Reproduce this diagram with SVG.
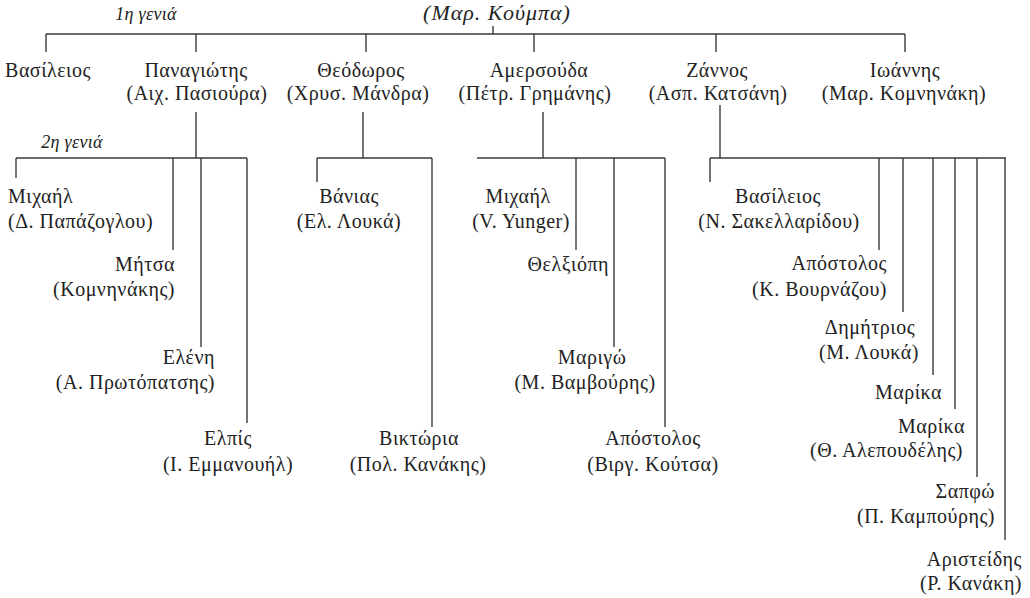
<svg xmlns="http://www.w3.org/2000/svg" width="1030" height="598" viewBox="0 0 1030 598">
<style>
text{font-family:"Liberation Serif","DejaVu Serif",serif;font-size:20px;letter-spacing:0.5px;fill:#222}
.it{font-style:italic;font-size:18px;letter-spacing:0.3px}
.rt{font-size:22px;letter-spacing:1px}
.m{text-anchor:middle}
.e{text-anchor:end}
.ln{fill:none;stroke:#3a3a3a;stroke-width:1.4}
</style>
<rect width="1030" height="598" fill="#fff"/>
<g id="connectors" class="ln">
<path d="M46 34H905M493 26V34M46 34V52M196 34V52M366 34V52M534 34V52M716 34V52M905 34V52"/>
<path d="M196 112V158M16 158H247M16 158V178M173 158V250M201 158V347M247 158V423"/>
<path d="M363 112V158M317 158H432M317 158V182M432 158V427"/>
<path d="M543 112V158M477 158H665M576 158V250M614 158V347M665 158V427"/>
<path d="M720 105V158M710 158H1006M710 158V182M879 158V250M903 158V312M933 158V375M955 158V409M977 158V477M1005 158V540"/>
</g>
<g id="labels">
<text class="it m" x="146" y="20">1η γενιά</text>
<text class="it m" x="72" y="148">2η γενιά</text>
</g>
<g id="root"><text class="it rt m" x="497" y="20">(Μαρ. Κούμπα)</text></g>
<g id="vasileios"><text class="m" x="48" y="77">Βασίλειος</text></g>
<g id="panagiotis"><text class="m" x="196" y="77">Παναγιώτης</text><text class="m" x="197" y="100">(Αιχ. Πασιούρα)</text></g>
<g id="theodoros"><text class="m" x="361" y="77">Θεόδωρος</text><text class="m" x="358" y="100">(Χρυσ. Μάνδρα)</text></g>
<g id="amersouda"><text class="m" x="539" y="77">Αμερσούδα</text><text class="m" x="535" y="100">(Πέτρ. Γρημάνης)</text></g>
<g id="zannos"><text class="m" x="717" y="77">Ζάννος</text><text class="m" x="718" y="100">(Ασπ. Κατσάνη)</text></g>
<g id="ioannis"><text class="m" x="905" y="77">Ιωάννης</text><text class="m" x="904" y="100">(Μαρ. Κομνηνάκη)</text></g>
<g id="michail1"><text x="8" y="203">Μιχαήλ</text><text x="8" y="228">(Δ. Παπάζογλου)</text></g>
<g id="mitsa"><text class="e" x="175" y="271">Μήτσα</text><text class="e" x="175" y="296">(Κομνηνάκης)</text></g>
<g id="eleni"><text class="e" x="215" y="364">Ελένη</text><text class="e" x="215" y="389">(Α. Πρωτόπατσης)</text></g>
<g id="elpis"><text class="m" x="228" y="445">Ελπίς</text><text class="m" x="228" y="471">(Ι. Εμμανουήλ)</text></g>
<g id="vanias"><text class="m" x="349" y="203">Βάνιας</text><text class="m" x="349" y="228">(Ελ. Λουκά)</text></g>
<g id="viktoria"><text class="m" x="419" y="445">Βικτώρια</text><text class="m" x="418" y="471">(Πολ. Κανάκης)</text></g>
<g id="michail2"><text class="m" x="518" y="203">Μιχαήλ</text><text class="m" x="521" y="228">(V. Yunger)</text></g>
<g id="thelxiopi"><text class="e" x="609" y="271">Θελξιόπη</text></g>
<g id="marigo"><text class="m" x="592" y="364">Μαριγώ</text><text class="m" x="585" y="389">(Μ. Βαμβούρης)</text></g>
<g id="apostolos1"><text class="m" x="653" y="445">Απόστολος</text><text class="m" x="653" y="471">(Βιργ. Κούτσα)</text></g>
<g id="vasileios2"><text class="m" x="778" y="203">Βασίλειος</text><text class="m" x="779" y="228">(Ν. Σακελλαρίδου)</text></g>
<g id="apostolos2"><text class="e" x="887" y="270">Απόστολος</text><text class="e" x="887" y="296">(Κ. Βουρνάζου)</text></g>
<g id="dimitrios"><text class="m" x="870" y="334">Δημήτριος</text><text class="m" x="869" y="359">(Μ. Λουκά)</text></g>
<g id="marika1"><text class="e" x="942" y="399">Μαρίκα</text></g>
<g id="marika2"><text class="e" x="965" y="433">Μαρίκα</text><text class="e" x="963" y="457">(Θ. Αλεπουδέλης)</text></g>
<g id="sapfo"><text class="e" x="995" y="498">Σαπφώ</text><text class="e" x="995" y="523">(Π. Καμπούρης)</text></g>
<g id="aristeidis"><text class="e" x="1022" y="566">Αριστείδης</text><text class="e" x="1022" y="590">(Ρ. Κανάκη)</text></g>
</svg>
